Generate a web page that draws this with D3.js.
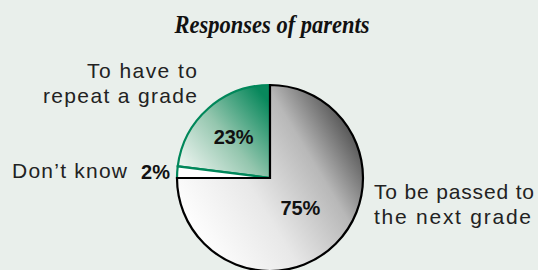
<!DOCTYPE html>
<meta charset="utf-8">
<script src="https://d3js.org/d3.v7.min.js"></script>
<style>
  body { margin: 0; background: #e9efeb; }
  svg { display: block; }
  .lbl { font-family: "Liberation Sans", Arial, sans-serif; font-size: 21px; fill: #222; }
  .pct { font-family: "Liberation Sans", Arial, sans-serif; font-weight: bold; font-size: 20px; fill: #111; }
</style>
<body>
<div id="chart"></div>
<script>
// chart values
var categories = ["To be passed to the next grade", "Don\u2019t know", "To have to repeat a grade"];
var values = [75, 2, 23];
var pctLabels = ["75%", "2%", "23%"];

var width = 538, height = 270;
var cx = 270, cy = 178, radius = 93;

var svg = d3.select("#chart").append("svg")
    .attr("width", width)
    .attr("height", height);

svg.append("rect").attr("width", width).attr("height", height).attr("fill", "#e9efeb");

// gradients (coordinates relative to the pie centre)
var defs = svg.append("defs");
var gGrey = defs.append("linearGradient").attr("id", "grey")
    .attr("gradientUnits", "userSpaceOnUse")
    .attr("x1", -radius * 0.8).attr("y1", radius * 0.7)
    .attr("x2", radius * 0.95).attr("y2", -radius * 0.35);
gGrey.append("stop").attr("offset", "0%").attr("stop-color", "#ffffff");
gGrey.append("stop").attr("offset", "40%").attr("stop-color", "#e8e8e8");
gGrey.append("stop").attr("offset", "75%").attr("stop-color", "#b8b8b8");
gGrey.append("stop").attr("offset", "100%").attr("stop-color", "#5a5a5a");

var gGreen = defs.append("linearGradient").attr("id", "green")
    .attr("gradientUnits", "userSpaceOnUse")
    .attr("x1", -radius * 0.9).attr("y1", -radius * 0.05)
    .attr("x2", 0).attr("y2", -radius * 0.8);
gGreen.append("stop").attr("offset", "0%").attr("stop-color", "#eef5f1");
gGreen.append("stop").attr("offset", "50%").attr("stop-color", "#94c6ae");
gGreen.append("stop").attr("offset", "100%").attr("stop-color", "#08885c");

var fills = ["url(#grey)", "#ffffff", "url(#green)"];
var strokes = ["#000000", "#00875a", "#00875a"];

var pie = d3.pie().sort(null).value(function(d) { return d; });
var arcs = pie(values);

var arc = d3.arc().innerRadius(0).outerRadius(radius);

var g = svg.append("g").attr("transform", "translate(" + cx + "," + cy + ")");

// draw green slices first, black outline on top
var order = [2, 1, 0];
order.forEach(function(i) {
  g.append("path")
    .attr("d", arc(arcs[i]))
    .attr("fill", fills[i])
    .attr("stroke", strokes[i])
    .attr("stroke-width", 2.2)
    .attr("stroke-linejoin", "miter");
});

// percent labels inside slices
[0, 2].forEach(function(i) {
  var a = (arcs[i].startAngle + arcs[i].endAngle) / 2;
  var r = i === 0 ? 43 : 55;
  g.append("text").attr("class", "pct")
    .attr("x", r * Math.sin(a))
    .attr("y", -r * Math.cos(a) + 7)
    .attr("text-anchor", "middle")
    .text(pctLabels[i]);
});

// small slice label outside
var aSmall = arcs[1].startAngle;
svg.append("text").attr("class", "pct")
  .attr("x", cx + (radius + 4) * Math.sin(aSmall) - 3)
  .attr("y", cy + 1)
  .attr("text-anchor", "end")
  .text(pctLabels[1]);

svg.append("text").attr("class", "lbl")
  .attr("x", 127).attr("y", 178)
  .attr("text-anchor", "end")
  .attr("textLength", 115).attr("lengthAdjust", "spacing")
  .text(categories[1]);

// category labels
function multi(lines, x, y, anchor, lens) {
  lines.forEach(function(t, k) {
    svg.append("text").attr("class", "lbl")
      .attr("x", x).attr("y", y + k * 24.5)
      .attr("text-anchor", anchor)
      .attr("textLength", lens[k]).attr("lengthAdjust", "spacing")
      .text(t);
  });
}
multi(["To have to", "repeat a grade"], 197, 78, "end", [110, 154]);
multi(["To be passed to", "the next grade"], 374, 199, "start", [160, 157]);

// title
svg.append("text")
  .attr("x", 272).attr("y", 33)
  .attr("text-anchor", "middle")
  .attr("font-family", "Liberation Serif, serif")
  .attr("font-style", "italic")
  .attr("font-weight", "bold")
  .attr("font-size", 25)
  .attr("textLength", 195).attr("lengthAdjust", "spacingAndGlyphs")
  .attr("fill", "#111")
  .text("Responses of parents");
</script>
</body>
